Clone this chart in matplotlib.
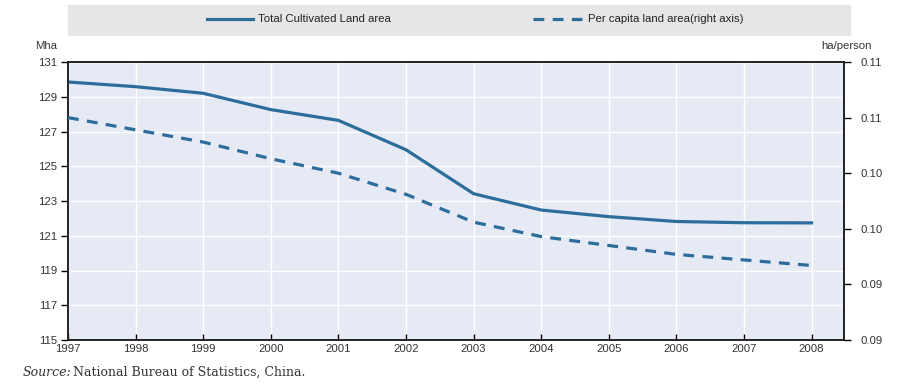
import numpy as np
import matplotlib.pyplot as plt
from matplotlib.lines import Line2D

# ================================================================
# Data
# ================================================================
years = [1997, 1998, 1999, 2000, 2001, 2002, 2003, 2004, 2005, 2006, 2007, 2008]
land_mha = [129.85, 129.58, 129.2, 128.26, 127.64, 125.95, 123.42, 122.48, 122.1,
            121.82, 121.75, 121.74]
per_capita = [0.1050, 0.1039, 0.1028, 0.1013, 0.1000, 0.0981, 0.0956, 0.0943,
              0.0935, 0.0927, 0.0922, 0.0917]

left_ticks = [115, 117, 119, 121, 123, 125, 127, 129, 131]
right_ticks = [0.085, 0.090, 0.095, 0.100, 0.105, 0.110]
right_labels = ["0.09", "0.09", "0.10", "0.10", "0.11", "0.11"]
legend_labels = ["Total Cultivated Land area", "Per capita land area(right axis)"]

BLUE = "#2c6d9c"
BG = "#e5eaf4"
SANS = ["Liberation Sans", "DejaVu Sans"]
FS = 8.2

# ================================================================
# Figure
# ================================================================
W, H = 916, 384
fig = plt.figure(figsize=(W/100, H/100), dpi=100)
ax = fig.add_axes([68/W, 1-340/H, (844-68)/W, (340-62)/H])
ax.set_facecolor(BG)
ax2 = ax.twinx()

ax.plot(years, land_mha, color=BLUE, lw=2.3, zorder=3)
ax2.plot(years, per_capita, color=BLUE, lw=2.3, ls=(0, (3.4, 2.6)), zorder=3)

ax.set_xlim(1997, 2008.48)
ax.set_ylim(115, 131)
ax2.set_ylim(0.085, 0.110)

ax.set_xticks(years)
ax.set_xticklabels([str(y) for y in years])
ax.set_yticks(left_ticks)
ax2.set_yticks(right_ticks)
ax2.set_yticklabels(right_labels)

ax.grid(True, color="white", lw=1.0)
ax.set_axisbelow(True)

ax.tick_params(axis="x", direction="in", length=4, width=1, pad=3,
               labelsize=FS, labelcolor="#333333")
ax.tick_params(axis="y", direction="out", length=5, width=1, pad=3,
               labelsize=FS, labelcolor="#333333")
ax2.tick_params(axis="y", direction="out", length=5, width=1, pad=7,
                labelsize=FS, labelcolor="#333333")
for a in (ax, ax2):
    for lab in a.get_xticklabels() + a.get_yticklabels():
        lab.set_fontfamily(SANS)
    for s in a.spines.values():
        s.set_linewidth(1.2)
        s.set_color("#222222")

fig.text(46/W, 1-46/H, "Mha", ha="center", va="center", fontsize=FS,
         family=SANS, color="#333333")
fig.text(872/W, 1-46/H, "ha/person", ha="right", va="center", fontsize=FS,
         family=SANS, color="#333333")

# legend band
fig.patches.append(plt.Rectangle((68/W, 1-35/H), (850-68)/W, 30/H,
                                 transform=fig.transFigure, color="#e6e6e6",
                                 zorder=0))
ly = 1-19/H
fig.add_artist(Line2D([207/W, 253/W], [ly, ly], transform=fig.transFigure,
                      color=BLUE, lw=2.3))
fig.add_artist(Line2D([533/W, 582/W], [ly, ly], transform=fig.transFigure,
                      color=BLUE, lw=2.3, ls=(0, (3.4, 2.6))))
fig.text(258/W, ly, legend_labels[0], ha="left", va="center", fontsize=FS,
         family=SANS, color="#222222")
fig.text(588/W, ly, legend_labels[1], ha="left", va="center", fontsize=FS,
         family=SANS, color="#222222")

fig.text(23/W, 1-372/H, "Source:", ha="left", va="center", fontsize=9,
         family="DejaVu Serif", style="italic", color="#333333")
fig.text(73/W, 1-372/H, "National Bureau of Statistics, China.", ha="left",
         va="center", fontsize=9, family="DejaVu Serif", color="#333333")

fig.savefig("out.png", dpi=100)
